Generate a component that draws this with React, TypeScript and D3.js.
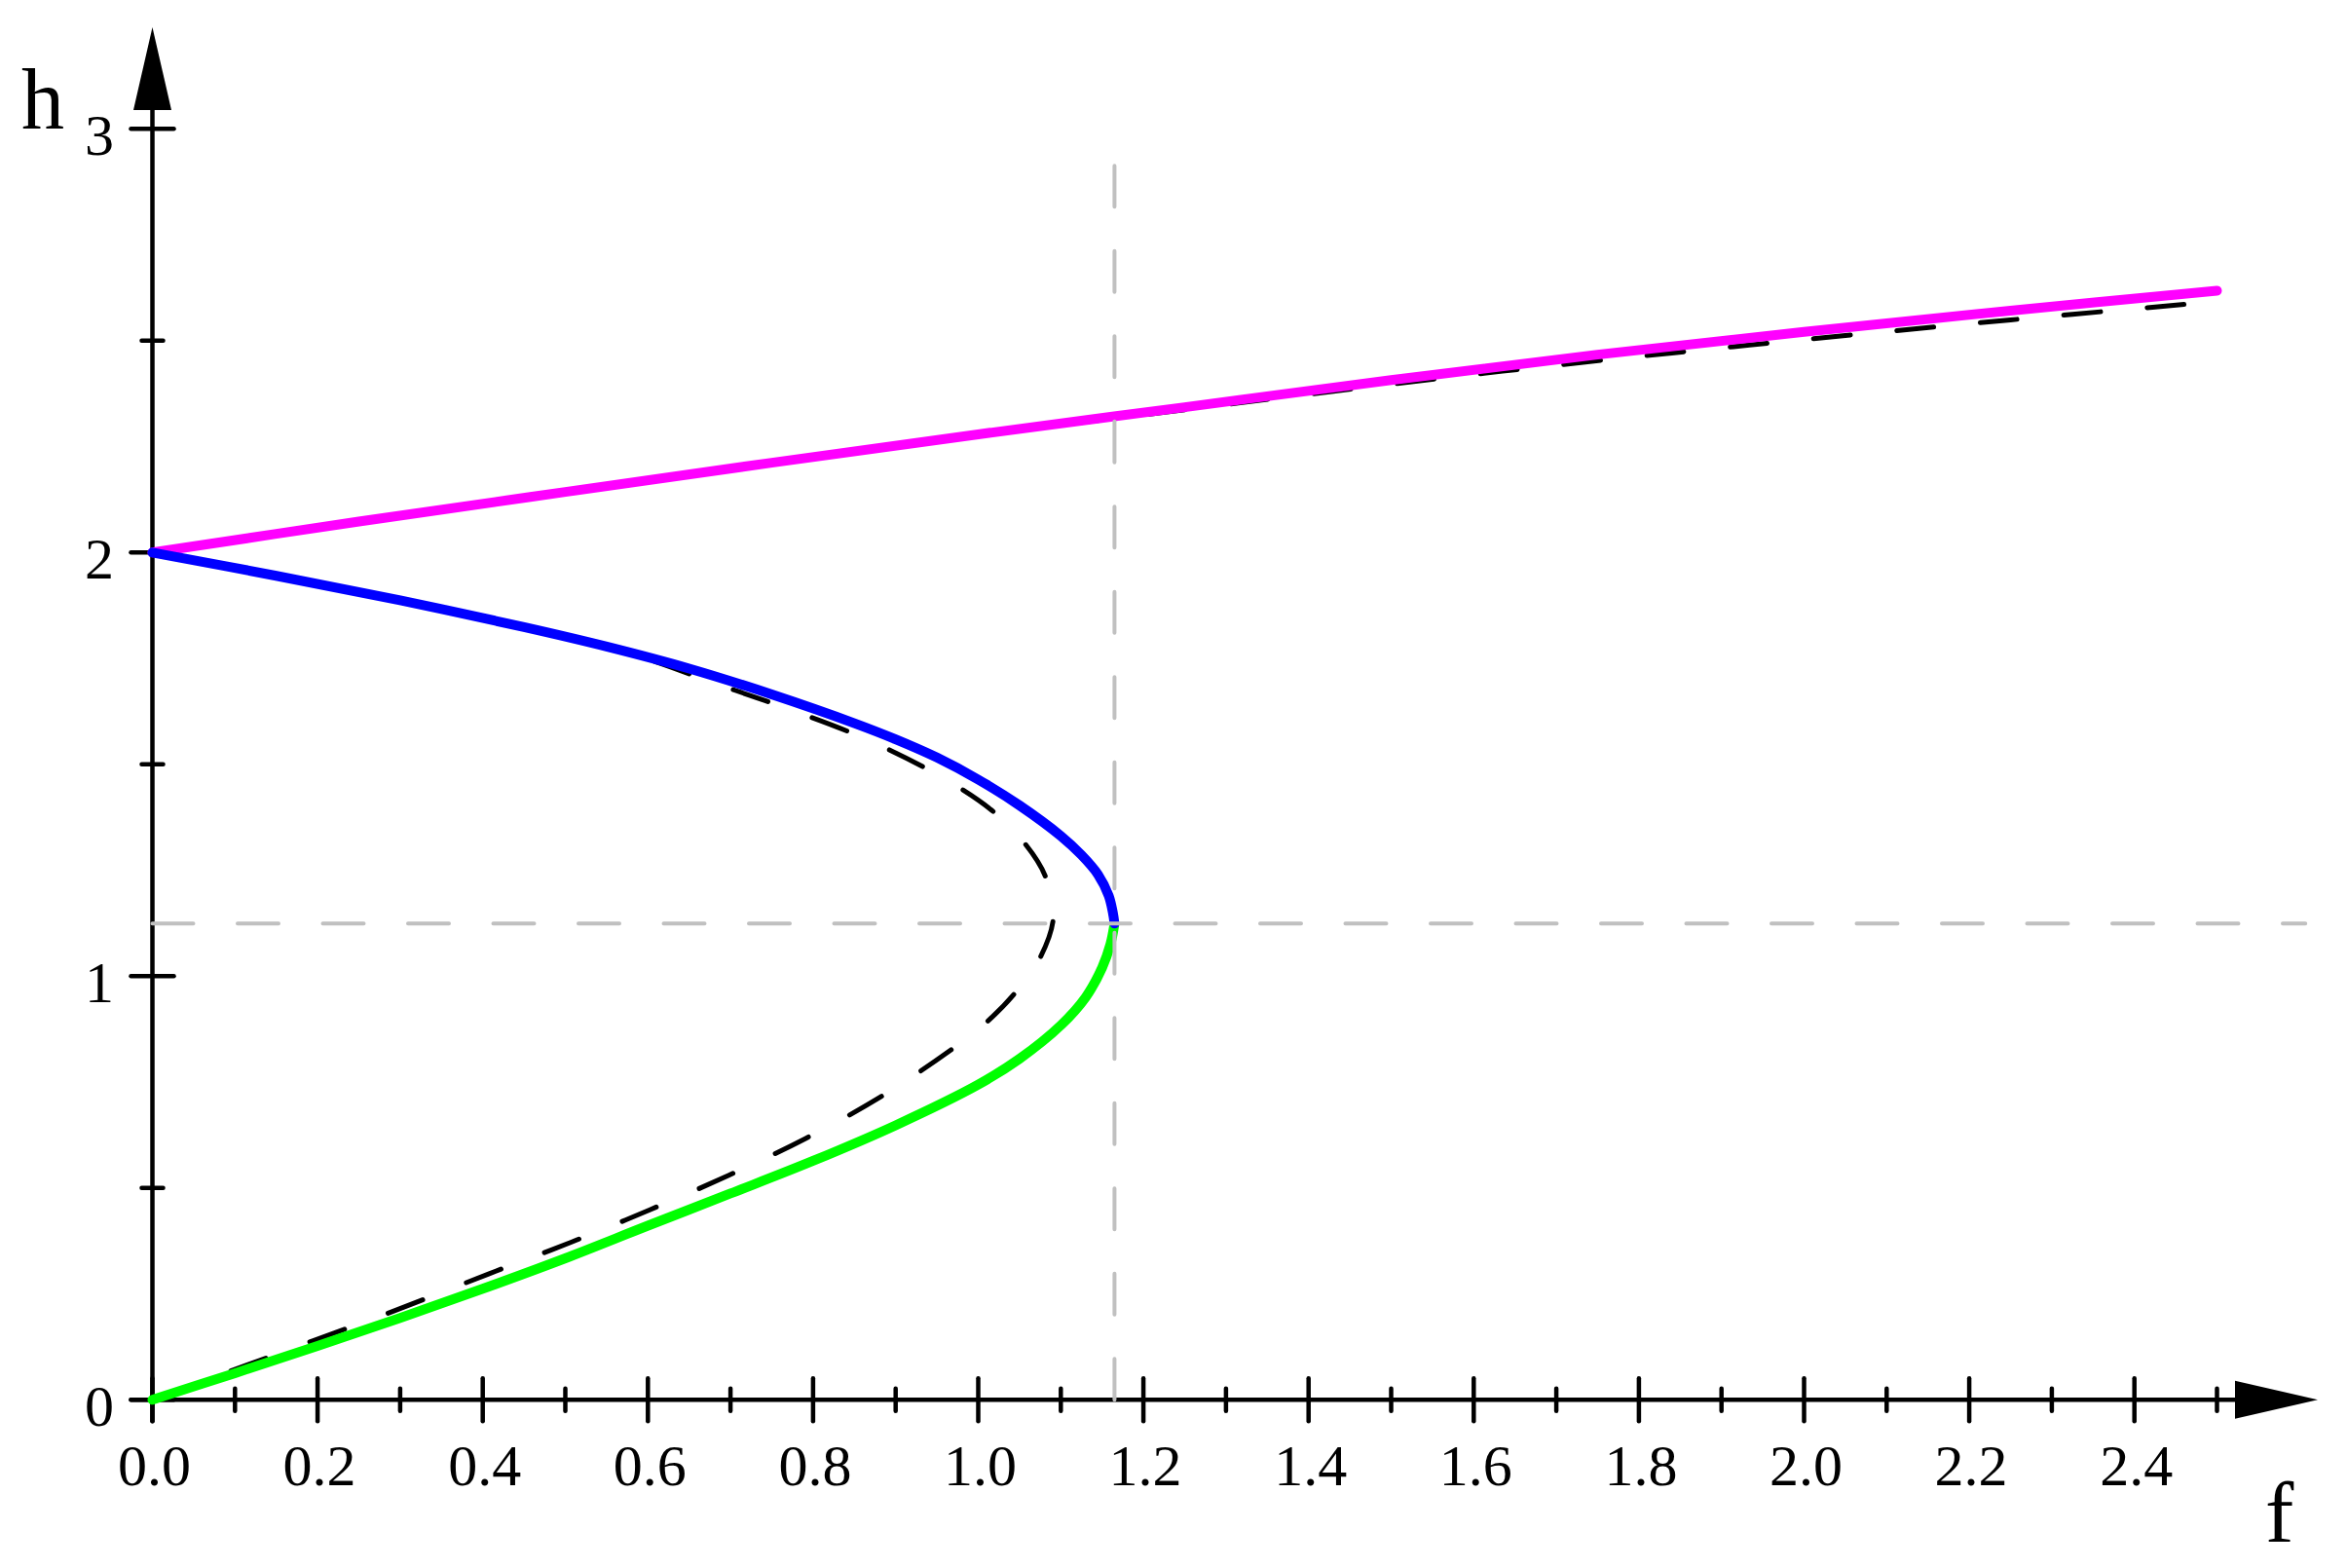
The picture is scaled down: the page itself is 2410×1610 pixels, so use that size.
import React from "react";
import * as d3 from "d3";

// ---- data (f, h) ----
const xMajorTicks = [0, 0.2, 0.4, 0.6, 0.8, 1.0, 1.2, 1.4, 1.6, 1.8, 2.0, 2.2, 2.4];
const xMinorTicks = [0.1, 0.3, 0.5, 0.7, 0.9, 1.1, 1.3, 1.5, 1.7, 1.9, 2.1, 2.3, 2.5];
const yMajorTicks = [0, 1, 2, 3];
const yMinorTicks = [0.5, 1.5, 2.5];

const magentaBranch: [number, number][] = [
  [0, 2.0], [0.25, 2.073], [0.5, 2.143], [0.75, 2.212], [1.0, 2.279], [1.25, 2.343],
  [1.5, 2.407], [1.75, 2.467], [2.0, 2.521], [2.25, 2.571], [2.5, 2.618],
];

const blueBranch: [number, number][] = [
  [0, 2.0], [0.15, 1.945], [0.3, 1.887], [0.45, 1.824], [0.55, 1.778], [0.65, 1.726],
  [0.75, 1.665], [0.85, 1.597], [0.9, 1.559], [0.95, 1.516], [1.0, 1.464], [1.05, 1.403],
  [1.1, 1.331], [1.125, 1.286], [1.145, 1.24], [1.158, 1.19], [1.163, 1.15], [1.165, 1.124],
];

const greenBranch: [number, number][] = [
  [0, 0], [0.1, 0.063], [0.2, 0.127], [0.3, 0.193], [0.4, 0.262], [0.5, 0.334],
  [0.6, 0.411], [0.7, 0.487], [0.8, 0.564], [0.9, 0.648], [1.0, 0.744], [1.05, 0.805],
  [1.1, 0.884], [1.13, 0.95], [1.15, 1.02], [1.16, 1.075], [1.165, 1.124],
];

const approxLower: [number, number][] = [
  [0, 0], [0.194, 0.139], [0.29, 0.208], [0.407, 0.297], [0.507, 0.372], [0.603, 0.449],
  [0.698, 0.53], [0.791, 0.617], [0.881, 0.714], [0.967, 0.826], [1.007, 0.886],
  [1.044, 0.959], [1.075, 1.044], [1.091, 1.14], [1.081, 1.237], [1.054, 1.319],
  [1.016, 1.392], [0.951, 1.475], [0.859, 1.564], [0.761, 1.637], [0.68, 1.692],
  [0.6, 1.748], [0.5, 1.801], [0.3, 1.887], [0.15, 1.945], [0, 2.0],
];

const approxUpper: [number, number][] = [
  [0, 2.0], [0.5, 2.142], [1.0, 2.276], [1.221, 2.33], [1.428, 2.38], [1.635, 2.428],
  [1.84, 2.471], [2.044, 2.511], [2.25, 2.549], [2.457, 2.585], [2.5, 2.592],
];

const criticalF = 1.165;
const criticalH = 1.124;
const hLineEndF = 2.607;
const vLineEndH = 2.94;

export default function App() {
  const W = 2410;
  const H = 1610;
  const x = d3.scaleLinear().domain([0, 2.5]).range([156.5, 156.5 + 2.5 * 848]);
  const y = d3.scaleLinear().domain([0, 3]).range([1437.3, 132.3]);

  const line = d3
    .line<[number, number]>()
    .x((d) => x(d[0]))
    .y((d) => y(d[1]))
    .curve(d3.curveCatmullRom.alpha(0.5));

  const x0 = x(0);
  const y0 = y(0);
  const font = "'Liberation Serif', 'Times New Roman', Times, serif";
  const axisEndX = 2295;
  const axisTopY = 113;

  return (
    <svg
      width={W}
      height={H}
      viewBox={`0 0 ${W} ${H}`}
      style={{ position: "absolute", left: 0, top: 0, background: "#fff" }}
    >
      <rect x={0} y={0} width={W} height={H} fill="#fff" />
      {/* axes */}
      <g stroke="#000" strokeWidth={4.5} strokeLinecap="round">
        <line x1={x0 - 22} y1={y0} x2={axisEndX} y2={y0} />
        <line x1={x0} y1={y0 + 22} x2={x0} y2={axisTopY} />
        {xMajorTicks.map((t) => (
          <line key={"xM" + t} x1={x(t)} x2={x(t)} y1={y0 - 22} y2={y0 + 22} />
        ))}
        {xMinorTicks.map((t) => (
          <line key={"xm" + t} x1={x(t)} x2={x(t)} y1={y0 - 11.5} y2={y0 + 11.5} />
        ))}
        {yMajorTicks.map((t) => (
          <line key={"yM" + t} y1={y(t)} y2={y(t)} x1={x0 - 22} x2={x0 + 22} />
        ))}
        {yMinorTicks.map((t) => (
          <line key={"ym" + t} y1={y(t)} y2={y(t)} x1={x0 - 11} x2={x0 + 11} />
        ))}
      </g>
      <polygon points={`${axisEndX},${y0 - 19.5} ${2380},${y0} ${axisEndX},${y0 + 19.5}`} fill="#000" />
      <polygon points={`${x0 - 19.5},${axisTopY} ${x0},${28} ${x0 + 19.5},${axisTopY}`} fill="#000" />

      {/* tick labels */}
      <g fontFamily={font} fontSize={60} fill="#000">
        {xMajorTicks.map((t) => (
          <text key={"xl" + t} x={x(t) + 2} y={1525} textAnchor="middle">
            {t.toFixed(1)}
          </text>
        ))}
        {yMajorTicks.map((t) => (
          <text key={"yl" + t} x={117} y={y(t) + 27} textAnchor="end">
            {String(t)}
          </text>
        ))}
      </g>
      <text x={22} y={132} fontFamily={font} fontSize={88} fill="#000">h</text>
      <text x={2326} y={1583} fontFamily={font} fontSize={88} fill="#000">f</text>

      {/* approximate (dashed) curves */}
      <g fill="none" stroke="#000" strokeWidth={5} strokeLinecap="round" strokeDasharray="38 48">
        <path d={line(approxLower) || ""} />
        <path d={line(approxUpper) || ""} />
      </g>

      {/* exact branches */}
      <g fill="none" strokeWidth={10} strokeLinecap="round" strokeLinejoin="round">
        <path d={line(magentaBranch) || ""} stroke="#ff00ff" />
        <path d={line(greenBranch) || ""} stroke="#00ff00" />
        <path d={line(blueBranch) || ""} stroke="#0000ff" />
      </g>

      {/* critical point guide lines */}
      <g stroke="#c0c0c0" strokeWidth={4} strokeLinecap="round" strokeDasharray="42 45.5">
        <line x1={x(0)} y1={y(criticalH)} x2={x(hLineEndF)} y2={y(criticalH)} />
        <line x1={x(criticalF)} y1={y(0)} x2={x(criticalF)} y2={y(vLineEndH)} />
      </g>
    </svg>
  );
}
